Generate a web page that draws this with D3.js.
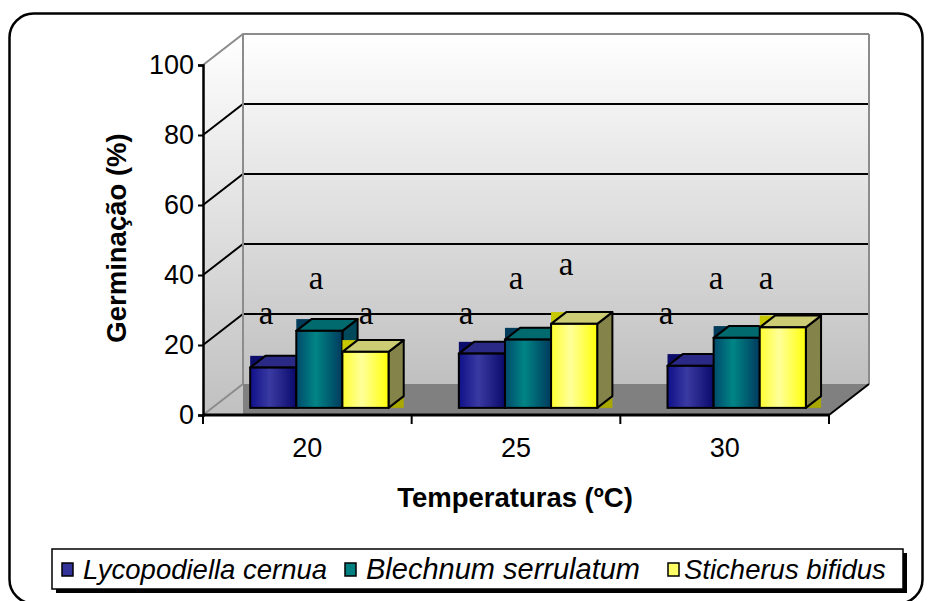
<!DOCTYPE html>
<html>
<head>
<meta charset="utf-8">
<script src="https://cdn.jsdelivr.net/npm/d3@7"></script>
<style>
  html, body { margin: 0; padding: 0; background: #ffffff; }
  svg { display: block; }
  text { font-family: Arial, "Liberation Sans", sans-serif; fill: #000; }
</style>
</head>
<body>
<svg id="chart" width="930" height="601"></svg>
<script>
// ---- data ----
const categories = ["20", "25", "30"];
const seriesNames = ["Lycopodiella cernua", "Blechnum serrulatum", "Sticherus bifidus"];
const lycopodiella = [11.5, 15.5, 12];
const blechnum = [22, 19.5, 20];
const sticherus = [16, 24, 23];
const yTicks = [0, 20, 40, 60, 80, 100];
// letters of the mean-comparison test written above each bar, and the level they sit at
const letters = [["a", "a", "a"], ["a", "a", "a"], ["a", "a", "a"]];
const letterLevels = [[26, 26, 26], [36, 36, 36], [26, 40, 36]];

const seriesValues = [lycopodiella, blechnum, sticherus];

// ---- styles ----
const palette = [
  { id: "s0", front: ["#10108a", "#3a3aa2", "#0a0a6c"], top: "#2a2a86", topBox: "#0c0c6a", side: "#1a1a5e", sideBox: "#0c0c6a", key: "#333399" },
  { id: "s1", front: ["#004a6c", "#008585", "#003a5e"], top: "#006a6e", topBox: "#003c5a", side: "#00485a", sideBox: "#003c5a", key: "#008080" },
  { id: "s2", front: ["#ffff30", "#ffff9a", "#ffff08"], top: "#cccc74", topBox: "#c8c800", side: "#84844a", sideBox: "#a8a800", key: "#ffff66" }
];

const svg = d3.select("#chart");
const defs = svg.append("defs");

// ---- 3-D layout ----
const DX = 40, DY = 31;             // oblique offset of the full depth
const x = d3.scaleBand().domain(categories).range([203, 829]);
const y = d3.scaleLinear().domain([0, 100]).range([415, 65]);
const P = (px, v, z) => [px + z * DX, y(v) - z * DY];
const barZ0 = 0.23, barZ1 = 0.61;
const inner = d3.scaleBand().domain(d3.range(3)).range([0.182, 0.182 + 3 * 0.221]);

// gradients
const wallGrad = defs.append("linearGradient").attr("id", "wall").attr("x1", 0).attr("y1", 0).attr("x2", 0).attr("y2", 1);
wallGrad.append("stop").attr("offset", 0).attr("stop-color", "#ffffff");
wallGrad.append("stop").attr("offset", 1).attr("stop-color", "#c0c0c0");
palette.forEach(p => {
  const g = defs.append("linearGradient").attr("id", "front-" + p.id).attr("x1", 0).attr("y1", 0).attr("x2", 1).attr("y2", 0);
  g.append("stop").attr("offset", 0).attr("stop-color", p.front[0]);
  g.append("stop").attr("offset", 0.42).attr("stop-color", p.front[1]);
  g.append("stop").attr("offset", 1).attr("stop-color", p.front[2]);
});

// outer frame
svg.append("rect").attr("x", 9.5).attr("y", 13.5).attr("width", 913).attr("height", 590)
  .attr("rx", 24).attr("fill", "#fff").attr("stroke", "#000").attr("stroke-width", 2.5);

const poly = pts => "M" + pts.map(p => p.join(",")).join("L") + "Z";
const plot = svg.append("g");
const [x0, x1] = x.range();

// side wall (left), reaching down to the front edge of the floor
plot.append("path")
  .attr("d", poly([P(x0, 0, 0), P(x0, 100, 0), P(x0, 100, 1), P(x0, 0, 1), [P(x0, 0, 1)[0], y(0)]]))
  .attr("fill", "url(#wall)");
// back wall
const [bx0, by0] = P(x0, 100, 1);
const [bx1, by1] = P(x1, 0, 1);
plot.append("rect").attr("x", bx0).attr("y", by0).attr("width", bx1 - bx0).attr("height", by1 - by0)
  .attr("fill", "url(#wall)");
// floor
plot.append("path")
  .attr("d", poly([[P(x0, 0, 1)[0], y(0)], P(x1, 0, 0), P(x1, 0, 1), P(x0, 0, 1)]))
  .attr("fill", "#808080");

// gridlines on both walls
yTicks.forEach(t => {
  const col = (t === 0 || t === 100) ? "#8c8c8c" : "#000";
  plot.append("path")
    .attr("d", "M" + P(x0, t, 0) + "L" + P(x0, t, 1) + (t === 0 ? "" : "L" + P(x1, t, 1)))
    .attr("fill", "none").attr("stroke", col).attr("stroke-width", 2);
});
// wall edges
plot.append("path").attr("d", "M" + P(x0, 0, 1) + "L" + P(x0, 100, 1))
  .attr("stroke", "#8c8c8c").attr("stroke-width", 2);
plot.append("path").attr("d", "M" + P(x1, 0, 1) + "L" + P(x1, 100, 1))
  .attr("stroke", "#8c8c8c").attr("stroke-width", 2);
// floor front-right edge
plot.append("path").attr("d", "M" + P(x1, 0, 0) + "L" + P(x1, 0, 1))
  .attr("stroke", "#000").attr("stroke-width", 2);

// ---- bars ----
const bars = plot.append("g");
categories.forEach((c, ci) => {
  seriesValues.forEach((vals, si) => {
    const v = vals[ci];
    const p = palette[si];
    const xl = x(c) + inner(si) * x.bandwidth();
    const xr = xl + inner.bandwidth() * x.bandwidth();
    const fTL = P(xl, v, barZ0), fTR = P(xr, v, barZ0), fBR = P(xr, 0, barZ0), fBL = P(xl, 0, barZ0);
    const bTL = P(xl, v, barZ1), bTR = P(xr, v, barZ1), bBR = P(xr, 0, barZ1);
    const g = bars.append("g");
    // bounding boxes of the top and side faces
    g.append("rect").attr("x", fTL[0]).attr("y", bTL[1]).attr("width", bTR[0] - fTL[0]).attr("height", fTL[1] - bTL[1])
      .attr("fill", p.topBox);
    g.append("rect").attr("x", fTR[0]).attr("y", bTR[1]).attr("width", bTR[0] - fTR[0]).attr("height", fBR[1] - bTR[1])
      .attr("fill", p.sideBox);
    // side face
    g.append("path").attr("d", poly([fTR, bTR, bBR, fBR]))
      .attr("fill", p.side).attr("stroke", "#000").attr("stroke-width", 2).attr("stroke-linejoin", "round");
    // top face
    g.append("path").attr("d", poly([fTL, fTR, bTR, bTL]))
      .attr("fill", p.top).attr("stroke", "#000").attr("stroke-width", 2).attr("stroke-linejoin", "round");
    // front face
    g.append("rect").attr("x", fTL[0]).attr("y", fTL[1]).attr("width", fTR[0] - fTL[0]).attr("height", fBL[1] - fTL[1])
      .attr("fill", "url(#front-" + p.id + ")").attr("stroke", "#000").attr("stroke-width", 2);
  });
});

// ---- axes ----
const axes = svg.append("g");
// value axis on the front plane
const yAxis = d3.axisLeft(y).tickValues(yTicks).tickSize(5).tickPadding(4);
axes.append("g").attr("transform", `translate(${x0},0)`).call(yAxis)
  .call(g => g.select(".domain").attr("stroke-width", 2.5))
  .call(g => g.selectAll(".tick line").attr("stroke-width", 2))
  .call(g => g.selectAll("text").attr("font-size", 27).attr("font-family", "Arial, 'Liberation Sans', sans-serif").attr("fill", "#000"));

// category axis: line, divider ticks, labels
axes.append("line").attr("x1", x0).attr("x2", x1).attr("y1", y(0)).attr("y2", y(0))
  .attr("stroke", "#000").attr("stroke-width", 3);
const dividers = categories.map(c => x(c)).concat([x1]);
axes.selectAll(".div").data(dividers).join("line")
  .attr("x1", d => d).attr("x2", d => d).attr("y1", y(0)).attr("y2", y(0) + 9)
  .attr("stroke", "#000").attr("stroke-width", 2);
axes.selectAll(".cat").data(categories).join("text")
  .attr("x", d => x(d) + x.bandwidth() / 2).attr("y", y(0) + 42)
  .attr("text-anchor", "middle").attr("font-size", 27).text(d => d);

// axis titles
svg.append("text").attr("x", 515).attr("y", 507).attr("text-anchor", "middle")
  .attr("font-size", 27.5).attr("font-weight", "bold").text("Temperaturas (ºC)");
svg.append("text").attr("transform", "translate(126,238) rotate(-90)").attr("text-anchor", "middle")
  .attr("font-size", 27.5).attr("font-weight", "bold").text("Germinação (%)");

// ---- significance letters ----
const letterGroup = d3.scalePoint().domain(categories).range([316, 716]);
const letterStep = 50;
const yLetter = d3.scaleLinear().domain([0, 100]).range([y(0), y(100)]);
seriesValues.forEach((vals, si) => {
  svg.append("g").selectAll("text").data(categories).join("text")
    .attr("x", (c) => letterGroup(c) + (si - 1) * letterStep)
    .attr("y", (c, ci) => yLetter(letterLevels[si][ci]))
    .attr("text-anchor", "middle")
    .style("font-family", "'Liberation Serif', 'Times New Roman', serif")
    .attr("font-size", 33)
    .text((c, ci) => letters[si][ci]);
});

// ---- legend ----
const lg = svg.append("g");
lg.append("rect").attr("x", 56).attr("y", 553).attr("width", 851).attr("height", 40).attr("fill", "#000");
lg.append("rect").attr("x", 52).attr("y", 549).attr("width", 851).attr("height", 40)
  .attr("fill", "#fff").attr("stroke", "#000").attr("stroke-width", 1.5);
const legendX = [62, 345, 668];
const legendFont = [27.5, 29, 27.5];
seriesNames.forEach((name, i) => {
  lg.append("rect").attr("x", legendX[i]).attr("y", 563).attr("width", 11).attr("height", 13)
    .attr("fill", palette[i].key).attr("stroke", "#000").attr("stroke-width", 1.5);
  lg.append("text").attr("x", legendX[i] + (i === 2 ? 16 : 21)).attr("y", 579).attr("font-size", legendFont[i])
    .attr("font-style", "italic").text(name);
});
</script>
</body>
</html>
